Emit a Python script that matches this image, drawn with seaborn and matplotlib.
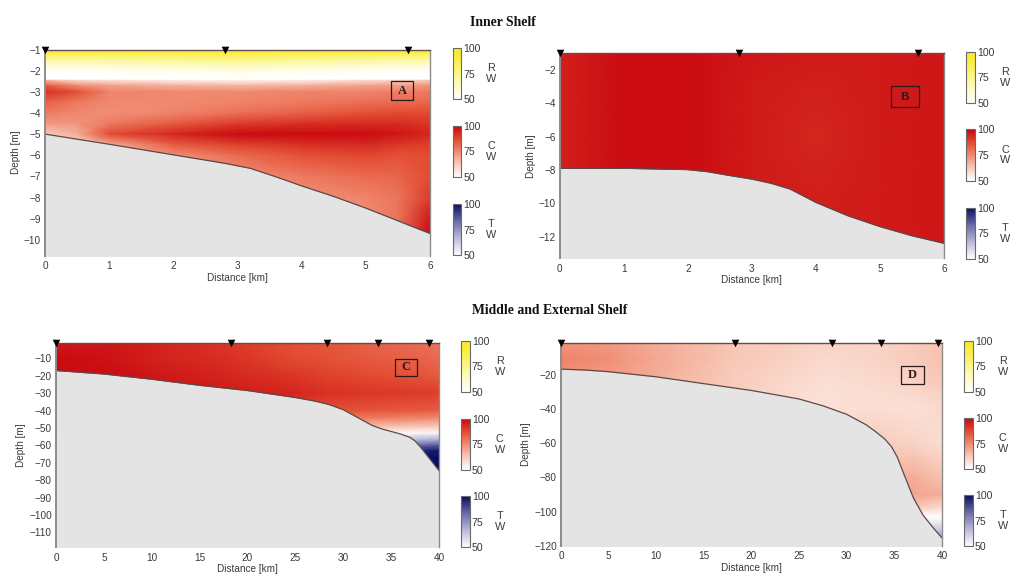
import numpy as np
import pandas as pd
import matplotlib
matplotlib.use("Agg")
import matplotlib.pyplot as plt
from matplotlib.colors import LinearSegmentedColormap, Normalize
from matplotlib.cm import ScalarMappable
from matplotlib.patches import Rectangle
import seaborn as sns

# ---------- data ----------
a_dist = [0, 0.5, 1, 2, 3, 4, 5, 5.5, 6]
a_r_depth = [-1, -1.2, -1.5, -1.8, -2.1, -2.4]
a_r = [[97, 97, 97, 97, 97, 97, 97, 97, 97],
       [86, 86, 86, 87, 88, 87, 86, 86, 86],
       [71, 71, 72, 74, 76, 74, 72, 71, 71],
       [58, 58, 60, 62, 64, 62, 60, 58, 58],
       [50, 50, 51, 53, 55, 53, 51, 50, 50],
       [50, 50, 50, 50, 50, 50, 50, 50, 50]]
a_c_depth = [-2.15, -2.4, -2.7, -3, -3.5, -4, -4.5, -5, -5.5, -6, -7, -8, -9, -10]
a_c = [[50, 50, 50, 50, 50, 50, 50, 50, 50],
       [62, 56, 54, 52, 50, 52, 55, 57, 60],
       [84, 74, 70, 67, 66, 67, 70, 71, 73],
       [92, 86, 76, 75, 75, 76, 76, 77, 78],
       [83, 78, 75, 75, 76, 78, 80, 81, 82],
       [78, 75, 74, 76, 80, 83, 86, 87, 87],
       [72, 73, 78, 84, 90, 92, 93, 93, 91],
       [62, 68, 87, 94, 99, 99, 99, 97, 94],
       [60, 60, 68, 84, 89, 92, 93, 91, 89],
       [60, 60, 64, 74, 81, 86, 88, 86, 87],
       [60, 60, 62, 66, 74, 78, 81, 82, 87],
       [60, 60, 62, 64, 68, 74, 76, 79, 90],
       [60, 60, 62, 64, 66, 70, 74, 79, 97],
       [60, 60, 62, 64, 66, 68, 72, 80, 100]]
a_bed_x = [0, 1, 2, 2.8, 3.2, 3.6, 4, 4.5, 5, 5.5, 6]
a_bed_y = [-5, -5.48, -5.98, -6.38, -6.62, -7.02, -7.45, -7.95, -8.5, -9.1, -9.7]
a_stations = [0, 2.8, 5.65]

b_dist = [0, 0.5, 1, 2, 3, 4, 5, 6]
b_c_depth = [-1, -3, -6, -9, -13.3]
b_c = [[95, 97, 99, 99, 97, 96, 96, 97],
       [95, 97, 99, 99, 96, 95, 96, 97],
       [95, 97, 99, 99, 96, 94, 96, 97],
       [95, 97, 99, 99, 96, 95, 96, 97],
       [95, 97, 99, 99, 97, 96, 96, 97]]
b_bed_x = [0, 1, 2, 2.3, 2.6, 3, 3.3, 3.6, 3.8, 4, 4.5, 5, 5.5, 6]
b_bed_y = [-7.9, -7.9, -7.98, -8.1, -8.3, -8.55, -8.8, -9.15, -9.55, -9.95, -10.75, -11.4, -11.95, -12.4]
b_stations = [0, 2.8, 5.6]

c_dist = [0, 5, 10, 18, 25, 28, 33, 39, 40]
c_c_depth = [-1, -10, -20, -30, -40, -45, -50, -53.5]
c_c = [[97, 97, 95, 91, 86, 85, 83, 80, 79],
       [99, 98, 95, 92, 87, 86, 84, 82, 81],
       [99, 99, 97, 94, 91, 89, 87, 85, 84],
       [99, 99, 98, 96, 94, 92, 91, 90, 89],
       [99, 99, 98, 96, 90, 86, 85, 84, 83],
       [99, 99, 98, 96, 88, 80, 76, 74, 73],
       [99, 99, 98, 96, 88, 72, 62, 60, 60],
       [99, 99, 98, 96, 88, 60, 50, 50, 50]]
c_t_depth = [-53.5, -57, -60, -63, -67, -75]
c_t_dist = [33, 36, 38, 40]
c_t = [[50, 52, 54, 55],
       [55, 64, 68, 70],
       [60, 76, 84, 86],
       [60, 85, 95, 98],
       [60, 90, 100, 100],
       [60, 90, 100, 100]]
c_bed_x = [0, 5, 10, 15, 20, 25, 27, 28.5, 30, 31, 32, 33, 34, 35, 36, 37, 37.5, 38, 38.5, 39, 39.5, 40]
c_bed_y = [-17, -19, -22, -25.5, -28.5, -32.5, -34.5, -36.5, -39.5, -42.5, -45.5, -48.5, -50.5, -52, -53.5,
           -55.5, -57.5, -60.5, -64, -67.5, -71, -74.5]
c_stations = [0, 18.3, 28.3, 33.6, 39]

d_dist = [0, 5, 10, 18, 25, 28, 33, 37, 40]
d_c_depth = [-1, -10, -20, -30, -40, -60, -80, -90, -98, -103]
d_c = [[73, 72, 68, 63, 61, 60, 60, 62, 64],
       [76, 74, 69, 63, 60, 59, 60, 62, 64],
       [74, 72, 68, 62, 59, 58, 59, 61, 63],
       [72, 70, 66, 62, 58, 57, 58, 59, 61],
       [72, 70, 66, 62, 58, 57, 58, 57, 59],
       [72, 70, 66, 62, 60, 60, 62, 60, 58],
       [72, 70, 66, 62, 60, 60, 66, 68, 64],
       [72, 70, 66, 62, 60, 60, 66, 70, 68],
       [72, 70, 66, 62, 60, 60, 62, 62, 58],
       [72, 70, 66, 62, 60, 60, 50, 50, 50]]
d_t_depth = [-103, -107, -111, -116, -120]
d_t_dist = [37, 38.5, 40]
d_t = [[50, 50, 50],
       [55, 55, 57],
       [62, 62, 64],
       [70, 72, 75],
       [70, 72, 75]]
d_bed_x = [0, 2.5, 5, 7.5, 10, 12.5, 15, 17.5, 20, 22.5, 25, 27.5, 30, 32, 33, 34, 34.7, 35.3, 36, 36.5, 37, 37.5,
           38, 39, 40]
d_bed_y = [-16.5, -17, -18, -19.5, -21, -23, -25, -27, -29, -31.5, -34, -38, -43, -49, -53, -57.5, -62, -68, -78,
           -85, -92, -97, -102, -109, -115.5]
d_stations = [0, 18.3, 28.4, 33.6, 39.6]

colorbar_ticks = [50, 75, 100]
colorbar_labels = ["R\nW", "C\nW", "T\nW"]
main_titles = ["Inner Shelf", "Middle and External Shelf"]

# ---------- style ----------
sns.set_theme(style="white")
SANS = "Liberation Sans"
SERIF = "Liberation Serif"
plt.rcParams["font.family"] = SANS
plt.rcParams["axes.unicode_minus"] = True
TXT = "#3a3a3a"
W, H = 1024, 578

cm_r = LinearSegmentedColormap.from_list("r", ["#ffffff", "#fdfab8", "#fbf25e", "#f6e91e"])
cm_c = LinearSegmentedColormap.from_list("c", ["#ffffff", "#f8c9b8", "#f08a70", "#e2492f", "#c8060f"])
cm_t = LinearSegmentedColormap.from_list("t", ["#ffffff", "#b9b9da", "#6a6aa8", "#0a0e62"])
norm = Normalize(50, 100)

fig = plt.figure(figsize=(W / 100, H / 100), dpi=100, facecolor="white")


def px_axes(x0, y0, x1, y1):
    return fig.add_axes([x0 / W, 1 - y1 / H, (x1 - x0) / W, (y1 - y0) / H])


def layer(ax, dist, depth, values, cmap):
    xx, yy = np.meshgrid(dist, depth)
    ax.pcolormesh(xx, yy, np.array(values, float), shading="gouraud", cmap=cmap, norm=norm, rasterized=True)


def panel(box, xlim, ylim, xticks, yticks, layers, bed_x, bed_y, stations, letter, lbox):
    ax = px_axes(*box)
    for dist, depth, vals, cmap in layers:
        layer(ax, dist, depth, vals, cmap)
    ax.fill_between(bed_x, bed_y, ylim[0] - 5, color="#e4e4e4", lw=0, zorder=3)
    bed = pd.DataFrame({"x": bed_x, "y": bed_y})
    sns.lineplot(data=bed, x="x", y="y", ax=ax, color="#5a4a4a", lw=0.9, zorder=4, errorbar=None, sort=False)
    st = pd.DataFrame({"x": stations, "y": [ylim[1]] * len(stations)})
    sns.scatterplot(data=st, x="x", y="y", ax=ax, marker="v", s=30, color="black", edgecolor="black",
                    linewidth=0, clip_on=False, zorder=6, legend=False)
    ax.set_xlim(*xlim)
    ax.set_ylim(*ylim)
    ax.set_xticks(xticks)
    ax.set_yticks(yticks)
    ax.set_xticklabels([str(t) for t in xticks])
    ax.set_yticklabels([f"\u2212{abs(t)}" for t in yticks])
    ax.tick_params(axis="x", length=0, pad=4, labelsize=7.2, labelcolor=TXT)
    ax.tick_params(axis="y", length=0, pad=3, labelsize=7.2, labelcolor=TXT)
    ax.set_xlabel("Distance [km]", fontsize=7.2, color=TXT, labelpad=1)
    ax.set_ylabel("Depth [m]", fontsize=7.2, color=TXT, labelpad=2)
    for s, sp in ax.spines.items():
        sp.set_visible(True)
        sp.set_color("#8c8c8c")
        sp.set_linewidth(1.0)
        sp.set_zorder(5)
    ax.spines["bottom"].set_visible(False)
    ax.spines["left"].set_linewidth(1.4)
    ax.spines["top"].set_color("#6a4a4a")
    cx, cy, bw, bh = lbox
    fig.add_artist(Rectangle(((cx - bw / 2) / W, 1 - (cy + bh / 2) / H), bw / W, bh / H,
                             transform=fig.transFigure, fc="none", ec="#2a1a1a", lw=0.9, zorder=7))
    fig.text(cx / W, 1 - cy / H, letter, ha="center", va="center", family=SERIF, weight="bold",
             fontsize=9, color="#2a1a1a", zorder=8)
    return ax


def colorbars(x0, x1, tops, height):
    for top, cmap, lab in zip(tops, [cm_r, cm_c, cm_t], colorbar_labels):
        cax = px_axes(x0, top, x1, top + height)
        cb = fig.colorbar(ScalarMappable(norm=norm, cmap=cmap), cax=cax, ticks=colorbar_ticks)
        cb.outline.set_edgecolor("#6a6a6a")
        cb.outline.set_linewidth(0.8)
        cax.tick_params(length=0, pad=1.5, labelsize=7.6, labelcolor=TXT)
        fig.text((x1 + 30) / W, 1 - (top + height / 2) / H, lab, ha="center", va="center",
                 fontsize=7.8, color=TXT, linespacing=1.1)


# ---------- panels ----------
panel((45, 49.5, 430, 255.7), (0, 6), (-10.75, -1), list(range(7)), list(range(-10, 0)),
      [(a_dist, a_c_depth, a_c, cm_c), (a_dist, a_r_depth, a_r, cm_r)],
      a_bed_x, a_bed_y, a_stations, "A", (402, 90.5, 22, 19))
colorbars(452.7, 461.3, [48.3, 126, 204], 51)

panel((559.7, 53.3, 944, 258.3), (0, 6), (-13.3, -1), list(range(7)), [-12, -10, -8, -6, -4, -2],
      [(b_dist, b_c_depth, b_c, cm_c)],
      b_bed_x, b_bed_y, b_stations, "B", (905, 96.5, 28, 21))
colorbars(966.3, 975.3, [51.7, 129.3, 207.7], 51.3)

panel((56, 342.7, 439, 547), (0, 40), (-118.4, -1), list(range(0, 45, 5)), list(range(-110, 0, 10)),
      [(c_dist, c_c_depth, c_c, cm_c), (c_t_dist, c_t_depth, c_t, cm_t)],
      c_bed_x, c_bed_y, c_stations, "C", (405.7, 367, 22, 17))
colorbars(460.7, 469.7, [341, 418.7, 496.3], 51)

panel((561, 342.7, 942, 545.7), (0, 40), (-120, -1), list(range(0, 45, 5)), [-120, -100, -80, -60, -40, -20],
      [(d_dist, d_c_depth, d_c, cm_c), (d_t_dist, d_t_depth, d_t, cm_t)],
      d_bed_x, d_bed_y, d_stations, "D", (912, 374.7, 23, 18))
colorbars(963.7, 972.7, [340.7, 418, 495.3], 51)

fig.text(503 / W, 1 - 23 / H, main_titles[0], ha="center", va="center", family=SERIF, weight="bold",
         fontsize=9.9, color="#111111")
fig.text(550 / W, 1 - 310 / H, main_titles[1], ha="center", va="center", family=SERIF, weight="bold",
         fontsize=9.9, color="#111111")

fig.savefig("out.png", dpi=100)
